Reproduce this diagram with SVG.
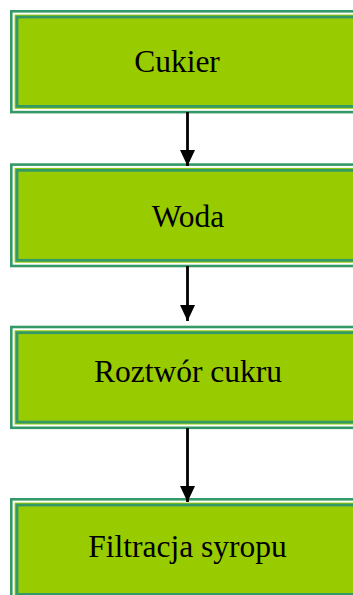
<svg xmlns="http://www.w3.org/2000/svg" width="353" height="595" viewBox="0 0 353 595">
  <defs>
    <style>
      .frame { fill: #ffffff; stroke: #339966; stroke-width: 2.6; }
      .body { fill: #99cc00; }
      .edge { fill: none; stroke: #339966; stroke-width: 2.8; }
      .label { font-family: "Liberation Serif", "Times New Roman", serif; font-size: 31.5px; fill: #000000; text-anchor: middle; }
      .link { stroke: #000000; stroke-width: 2.8; fill: none; marker-end: url(#head); }
    </style>
    <marker id="head" viewBox="0 0 16 15" refX="16" refY="7.5" markerWidth="16" markerHeight="15" markerUnits="userSpaceOnUse" orient="auto">
      <path d="M0,0 L16,7.5 L0,15 Z" fill="#000000"/>
    </marker>
  </defs>

  <g id="cukier">
    <rect class="frame" x="11.3" y="11.3" width="400" height="100.8"/>
    <rect class="body" x="14.6" y="14.6" width="400" height="94.2"/>
    <rect class="edge" x="17" y="17" width="400" height="89.4"/>
    <text class="label" x="177" y="72">Cukier</text>
  </g>

  <g id="woda">
    <rect class="frame" x="11.3" y="164.6" width="400" height="101.4"/>
    <rect class="body" x="14.6" y="167.9" width="400" height="94.8"/>
    <rect class="edge" x="17" y="170.3" width="400" height="90"/>
    <text class="label" x="188" y="227">Woda</text>
  </g>

  <g id="roztwor">
    <rect class="frame" x="11.3" y="327" width="400" height="100.8"/>
    <rect class="body" x="14.6" y="330.3" width="400" height="94.2"/>
    <rect class="edge" x="17" y="332.7" width="400" height="89.4"/>
    <text class="label" x="188" y="382">Roztwór cukru</text>
  </g>

  <g id="filtracja">
    <rect class="frame" x="11.3" y="499.3" width="400" height="100.8"/>
    <rect class="body" x="14.6" y="502.6" width="400" height="94.2"/>
    <rect class="edge" x="17" y="505" width="400" height="89.4"/>
    <text class="label" x="187.5" y="557">Filtracja syropu</text>
  </g>

  <g id="connectors">
    <line class="link" x1="187.5" y1="112" x2="187.5" y2="166"/>
    <line class="link" x1="187.5" y1="266" x2="187.5" y2="321"/>
    <line class="link" x1="187.5" y1="428" x2="187.5" y2="502"/>
  </g>
</svg>
